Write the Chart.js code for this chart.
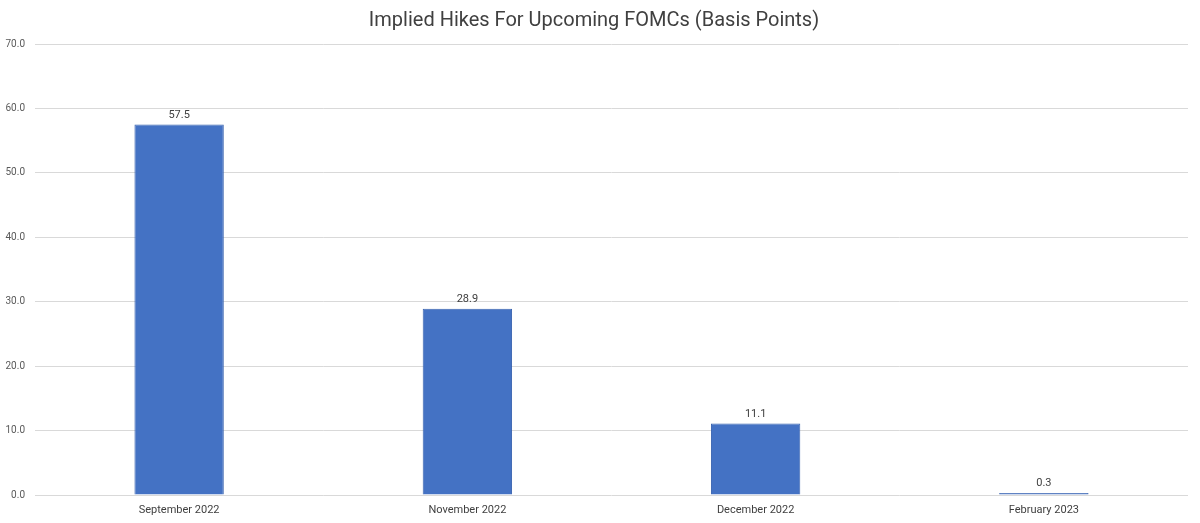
<!DOCTYPE html>
<html>
<head>
<meta charset="utf-8">
<script src="https://cdn.jsdelivr.net/npm/chart.js@4"></script>
<style>
  html, body { margin: 0; padding: 0; background: #fff; }
  #wrap { width: 1200px; height: 523px; }
</style>
</head>
<body>
<div id="wrap"><canvas id="chart"></canvas></div>
<script>
// data
const meetings = ['September 2022', 'November 2022', 'December 2022', 'February 2023'];
const impliedHikes = [57.5, 28.9, 11.1, 0.3];
const yMin = 0, yMax = 70, yStep = 10;

// value labels above the bars
const barLabels = {
  id: 'barLabels',
  afterDatasetsDraw(chart) {
    const ctx = chart.ctx;
    const meta = chart.getDatasetMeta(0);
    ctx.save();
    ctx.font = '11px Roboto';
    ctx.fillStyle = '#404040';
    ctx.textAlign = 'center';
    ctx.textBaseline = 'bottom';
    meta.data.forEach((bar, i) => {
      ctx.fillText(impliedHikes[i].toFixed(1), bar.x, bar.y - 4);
    });
    ctx.restore();
  }
};

new Chart(document.getElementById('chart'), {
  type: 'bar',
  data: {
    labels: meetings,
    datasets: [{
      data: impliedHikes,
      backgroundColor: '#4472C4',
      borderColor: '#3A64B0',
      borderWidth: 1,
      categoryPercentage: 1,
      barPercentage: 0.31
    }]
  },
  options: {
    responsive: true,
    maintainAspectRatio: false,
    animation: false,
    layout: { padding: { left: 0, right: 12, top: 0, bottom: 0 } },
    plugins: {
      legend: { display: false },
      tooltip: { enabled: false },
      title: {
        display: true,
        text: 'Implied Hikes For Upcoming FOMCs (Basis Points)',
        color: '#404040',
        font: { family: 'Roboto', size: 20, weight: 'normal' },
        padding: { top: 9, bottom: 11 }
      }
    },
    scales: {
      x: {
        grid: { display: false, drawTicks: false },
        border: { display: false },
        ticks: { color: '#404040', font: { family: 'Roboto', size: 11 }, padding: 9, maxRotation: 0 },
        afterFit: s => { s.height = 28; }
      },
      y: {
        min: yMin,
        max: yMax,
        border: { display: false },
        grid: { color: '#D9D9D9', drawTicks: false },
        ticks: {
          stepSize: yStep,
          color: '#595959',
          font: { family: 'Roboto', size: 10 },
          padding: 10,
          callback: v => v.toFixed(1)
        },
        afterFit: s => { s.width = 35; }
      }
    }
  },
  plugins: [barLabels]
});
</script>
</body>
</html>
